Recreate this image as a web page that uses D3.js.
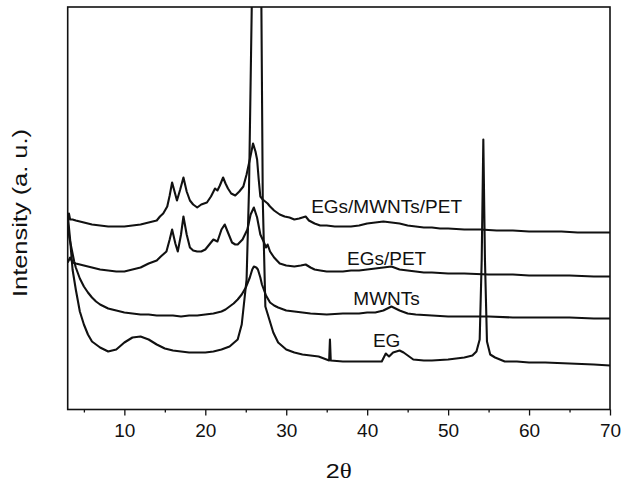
<!doctype html>
<html>
<head>
<meta charset="utf-8">
<script src="https://d3js.org/d3.v7.min.js"></script>
<style>
    body { margin: 0; background: #fff; }
    svg text { font-family: "Liberation Sans", Arial, sans-serif; fill: #111; }
    .curve { fill: none; stroke: #111; stroke-width: 2.1; stroke-linejoin: round; }
</style>
</head>
<body>
<script>
    // series, top to bottom
    var seriesNames = ["EGs/MWNTs/PET", "EGs/PET", "MWNTs", "EG"];
    var xTicks = [10, 20, 30, 40, 50, 60, 70];
    var xMinorTicks = [5, 15, 25, 35, 45, 55, 65];

    // 2theta (deg) and intensity (a. u.)
    var ttEgsMwntsPet = [3.0,3.15,3.3,3.6,4,5,6,7,8,9,10,11,12,12.5,13,13.5,14,14.4,14.8,15.3,15.6,15.9,16.2,16.5,16.9,17.3,17.7,18.1,18.5,19.0,19.5,20.2,20.7,21.2,21.5,21.8,22.2,22.5,22.8,23.2,23.7,24.2,24.7,25.1,25.5,25.9,26.2,26.4,26.6,26.8,27.1,27.4,27.7,28.0,28.5,29.2,29.8,30.4,31,31.6,32.4,32.8,33.5,34.2,35,36,37,38,39,40,41,42,43,44,45,46,47,48,49,50,52,54,56,58,60,62,64,66,68,70];
    var inEgsMwntsPet = [188,196,190,190,189,187,185,184,183,183,183,184,185,186,187,188,189,193,196,203,214,227,218,209,220,232,218,209,205,202,205,207,213,221,219,224,232,226,221,216,214,218,223,235,250,266,258,250,230,213,210,208,206,203,199,195,193,192,190,191,193,189,186,184,184,183,183,183,184,186,187,188,187,186,184,183,182,182,181,181,180,180,179,179,178,178,178,177,177,177];

    var ttEgsPet = [3.0,3.3,3.6,4,5,6,7,8,9,10,11,12,13,14,14.5,15.2,15.6,15.9,16.3,16.6,17.0,17.3,17.7,18.1,18.5,19,19.5,20,20.6,21.0,21.5,22.0,22.4,22.8,23.3,23.7,24,24.6,25.2,25.6,26.0,26.4,26.8,27.2,27.5,27.7,28.0,28.5,29.2,30,31,31.8,32.4,33,33.5,34.2,35,36,37,38,39,40,41,42,43,44,45,46,47,48,50,52,55,58,60,62,65,68,70];
    var inEgsPet = [147,152,147,146,144,142,140,139,138,138,140,142,146,149,153,158,170,180,166,158,175,193,175,162,159,158,158,160,166,170,168,180,185,177,167,165,165,170,180,195,202,192,175,168,162,165,158,152,146,144,143,144,145,142,140,139,138,138,138,139,139,140,141,142,143,140,139,138,137,137,136,136,135,135,134,134,134,133,133];

    var ttMwnts = [3.0,3.2,3.5,3.8,4,4.5,5,5.5,6,6.5,7,7.5,8,9,10,11,12,13,14,15,16,17,18,19,20,21,22,22.5,23,23.5,24,24.5,25,25.5,25.8,26.0,26.3,26.5,26.8,27,27.5,28,28.5,29,30,31,32,33,35,37,39,40,41,42,42.5,43,43.5,44,45,46,48,50,52,55,58,60,62,65,68,70];
    var inMwnts = [188,172,160,148,142,131,123,117,112,108,105,103,101,99,97,96,95,95,94,94,94,93,94,94,95,96,98,100,103,106,110,115,122,132,140,143,142,140,132,125,114,107,104,102,99,98,97,96,95,96,96,97,97,99,101,103,101,99,96,95,94,93,93,93,92,92,92,92,91,91];

    var ttEg = [3.0,3.3,3.6,4,4.5,5,5.5,6,7,8,9,10,11,12,13,14,15,16,17,18,19,20,21,22,23,24,24.5,25.1,25.4,25.74,26.0,26.33,26.6,26.93,27.1,27.42,28.4,29,30,31,32,33,34,35.3,35.4,35.5,37,38.5,40,41.8,42.3,42.7,43.2,44,44.5,45.7,47,48,50,52,53,53.5,53.9,54.15,54.35,54.55,54.8,55.2,55.8,57,58.5,60,62,65,68,70];
    var inEg = [195,170,140,120,98,85,75,68,62,58,60,67,72,73,70,65,61,59,58,57,57,57,58,60,63,70,85,130,220,403,900,1400,900,403,210,103,77,67,60,57,55,54,53,49,70,49,48,48,48,48,56,53,57,59,57,50,49,49,50,52,54,58,70,150,270,150,68,55,52,48,48,47,47,46,45,44];

    var series = [
        {name: seriesNames[0], tt: ttEgsMwntsPet, val: inEgsMwntsPet},
        {name: seriesNames[1], tt: ttEgsPet, val: inEgsPet},
        {name: seriesNames[2], tt: ttMwnts, val: inMwnts},
        {name: seriesNames[3], tt: ttEg, val: inEg}
    ];

    var width = 622, height = 483;
    var plotLeft = 67.7, plotRight = 610, plotTop = 7, plotBottom = 409.5;

    var x = d3.scaleLinear().domain([3, 70]).range([plotLeft, plotRight]);
    var y = d3.scaleLinear().domain([0, 402.5]).range([plotBottom, plotTop]);

    var svg = d3.select("body").append("svg")
        .attr("width", width)
        .attr("height", height);

    svg.append("clipPath").attr("id", "plotclip")
        .append("rect")
        .attr("x", plotLeft).attr("y", plotTop)
        .attr("width", plotRight - plotLeft).attr("height", plotBottom - plotTop);

    var line = d3.line()
        .x(function(d) { return x(d[0]); })
        .y(function(d) { return y(d[1]); });

    svg.append("g").attr("clip-path", "url(#plotclip)")
        .selectAll("path")
        .data(series)
        .enter()
        .append("path")
        .attr("class", "curve")
        .attr("d", function(s) { return line(d3.zip(s.tt, s.val)); });

    // labels sit next to each curve around 2theta = 42.4
    var labelAt = [197, 145, 105, 63];
    svg.selectAll("text.lbl")
        .data(series)
        .enter()
        .append("text")
        .attr("class", "lbl")
        .attr("x", x(42.4))
        .attr("y", function(d, i) { return y(labelAt[i]); })
        .attr("text-anchor", "middle")
        .style("font-size", "19px")
        .text(function(d) { return d.name; });

    // x axis, major + minor ticks
    var xAxis = svg.append("g")
        .attr("transform", "translate(0," + plotBottom + ")")
        .call(d3.axisBottom(x).tickValues(xTicks).tickSize(6).tickPadding(8).tickFormat(d3.format("d")));
    xAxis.select(".domain").remove();
    xAxis.selectAll("line").attr("stroke", "#111").attr("stroke-width", 1.3);
    xAxis.selectAll("text").style("font-size", "19px").attr("fill", "#111");

    var xMinor = svg.append("g")
        .attr("transform", "translate(0," + plotBottom + ")")
        .call(d3.axisBottom(x).tickValues(xMinorTicks).tickSize(3).tickFormat(""));
    xMinor.select(".domain").remove();
    xMinor.selectAll("line").attr("stroke", "#111").attr("stroke-width", 1.3);

    // frame
    svg.append("rect")
        .attr("x", plotLeft).attr("y", plotTop)
        .attr("width", plotRight - plotLeft).attr("height", plotBottom - plotTop)
        .attr("fill", "none")
        .attr("stroke", "#111")
        .attr("stroke-width", 1.6);

    // axis titles
    var xt = svg.append("text")
        .attr("x", (plotLeft + plotRight) / 2)
        .attr("y", 478)
        .attr("text-anchor", "middle")
        .attr("textLength", 26)
        .attr("lengthAdjust", "spacingAndGlyphs")
        .style("font-size", "20px");
    xt.append("tspan").text("2");
    xt.append("tspan").style("font-family", "'Liberation Serif', serif").text("θ");

    svg.append("text")
        .attr("transform", "translate(27,213) rotate(-90)")
        .attr("text-anchor", "middle")
        .attr("textLength", 168)
        .attr("lengthAdjust", "spacingAndGlyphs")
        .style("font-size", "21px")
        .text("Intensity (a. u.)");
</script>
</body>
</html>
